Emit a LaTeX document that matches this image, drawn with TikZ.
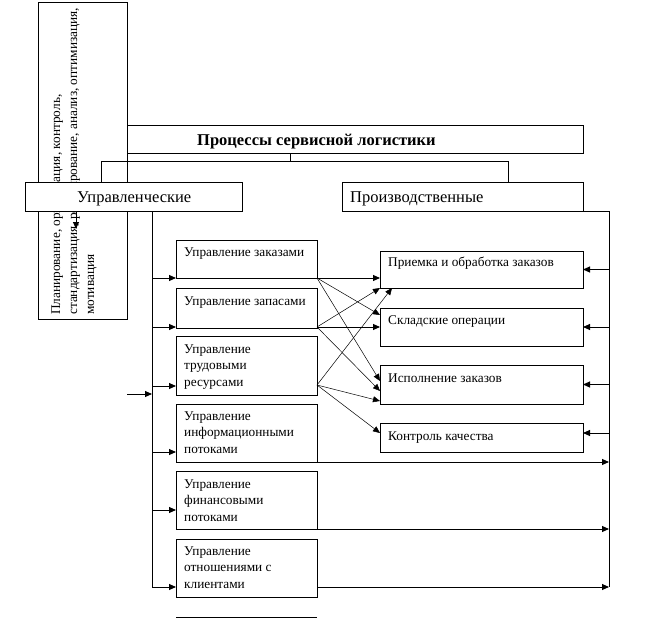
\documentclass[tikz,border=0pt]{standalone}
\usepackage{fontspec}
\setmainfont{Liberation Serif}
\usetikzlibrary{arrows.meta}
\begin{document}
\begin{tikzpicture}[x=1pt,y=-1pt,
  box/.style={draw, line width=0.9pt, fill=white, anchor=north west, inner sep=0pt, outer sep=0pt},
  txt/.style={anchor=base west, inner sep=0pt, align=left, font=\fontsize{13.3}{16.5}\selectfont},
  big/.style={anchor=base west, inner sep=0pt, font=\fontsize{16.5}{18}\selectfont},
  ttl/.style={anchor=base west, inner sep=0pt, font=\fontsize{16.5}{18}\selectfont\bfseries},
  conn/.style={line width=0.9pt},
  arr/.style={line width=0.9pt, -{Triangle[length=7pt,width=6pt]}},
  thinarr/.style={line width=0.5pt, -{Triangle[length=7pt,width=6pt]}},
]
\useasboundingbox (0,0) rectangle (648,618);
% left tall box with rotated text
\node[box, minimum width=89, minimum height=317] (plan) at (38.5,2) {};
\node[txt, rotate=90] (plan1) at (60,315) {Планирование, организация, контроль,};
\node[txt, rotate=90] (plan2) at (77,315) {стандартизация, регулирование, анализ, оптимизация,};
\node[txt, rotate=90] (plan3) at (94,315) {мотивация};
% top box
\node[box, minimum width=456, minimum height=28] (proc) at (127,125) {};
\node[ttl] (proct) at (197,145) {Процессы сервисной логистики};
% connector
\coordinate (j) at (290,161);
\coordinate (jl) at (101,161);
\coordinate (jr) at (508,161);
\draw[conn] (proc.south -| j) -- (j);
% category boxes
\node[box, minimum width=217, minimum height=29] (upr) at (25,182) {};
\node[big] (uprt) at (77,202) {Управленческие};
\node[box, minimum width=241, minimum height=29] (prod) at (342,182) {};
\node[big] (prodt) at (350,202) {Производственные};
\draw[conn] (upr.north -| jl) -- (jl) -- (jr) -- (prod.north -| jr);
% small arrow down
\coordinate (dn) at (76,229);
\draw[arr] (upr.south -| dn) -- (dn);
% left bus
\coordinate (lbend) at (152,587);
\draw[conn] (upr.south -| lbend) -- (lbend);
\coordinate (lin) at (127,394);
\draw[arr] (lin) -- (lin -| lbend);
% management boxes (multi-line text: base = last line)
\node[box, minimum width=141, minimum height=38] (m1) at (176,240) {};
\node[txt] (m1t) at (184,256) {Управление заказами};
\node[box, minimum width=141, minimum height=40] (m2) at (176,288) {};
\node[txt] (m2t) at (184,305) {Управление запасами};
\node[box, minimum width=141, minimum height=59] (m3) at (176,336) {};
\node[txt] (m3t) at (184,386) {Управление\\трудовыми\\ресурсами};
\node[box, minimum width=141, minimum height=58] (m4) at (176,404) {};
\node[txt] (m4t) at (184,453) {Управление\\информационными\\потоками};
\node[box, minimum width=141, minimum height=58] (m5) at (176,471) {};
\node[txt] (m5t) at (184,521) {Управление\\финансовыми\\потоками};
\node[box, minimum width=141, minimum height=58] (m6) at (176,539) {};
\node[txt] (m6t) at (184,588) {Управление\\отношениями с\\клиентами};
\draw[conn] (176,617.5) -- (317,617.5);
% bus arrows into management boxes
\coordinate (a1) at (176,278);
\coordinate (a2) at (176,327);
\coordinate (a3) at (176,386);
\coordinate (a4) at (176,452);
\coordinate (a5) at (176,510);
\coordinate (a6) at (176,587);
\foreach \a in {a1,a2,a3,a4,a5,a6} \draw[arr] (\a -| lbend) -- (\a);
% production boxes
\node[box, minimum width=203, minimum height=37] (r1) at (380,251) {};
\node[txt] (r1t) at (388,266) {Приемка и обработка заказов};
\node[box, minimum width=203, minimum height=38] (r2) at (380,308) {};
\node[txt] (r2t) at (388,324) {Складские операции};
\node[box, minimum width=203, minimum height=39] (r3) at (380,365) {};
\node[txt] (r3t) at (388,382) {Исполнение заказов};
\node[box, minimum width=203, minimum height=29] (r4) at (380,423) {};
\node[txt] (r4t) at (388,440) {Контроль качества};
% right bus
\coordinate (rbtop) at (609,211);
\coordinate (rbend) at (609,587);
\draw[conn] (prod.south east) -- (rbtop) -- (rbend);
\draw[arr] (r1.east -| rbend) -- (r1.east);
\draw[arr] (r2.east -| rbend) -- (r2.east);
\draw[arr] (r3.east -| rbend) -- (r3.east);
\coordinate (r4in) at (583,433);
\draw[arr] (r4in -| rbend) -- (r4in);
% lines to right bus
\draw[arr] (m4.south east) -- (m4.south east -| rbend);
\draw[arr] (m5.south east) -- (m5.south east -| rbend);
\draw[arr] (a6 -| m6.east) -- (a6 -| rbend);
% cross arrows
\coordinate (s1) at (317,278);
\coordinate (s2) at (317,327);
\coordinate (s3) at (317,385);
\coordinate (t12) at (380,315);
\coordinate (t13) at (380,381);
\coordinate (t23) at (380,391);
\coordinate (t33) at (380,401);
\coordinate (t31) at (392,288);
\draw[arr] (s1) -- (s1 -| r1.west);
\draw[thinarr] (s1) -- (t12);
\draw[thinarr] (s1) -- (t13);
\draw[thinarr] (s2) -- (r1.south west);
\draw[arr] (s2) -- (s2 -| r2.west);
\draw[thinarr] (s2) -- (t23);
\draw[thinarr] (s3) -- (t31);
\draw[thinarr] (s3) -- (t33);
\draw[thinarr] (s3) -- (r4in -| r4.west);
\end{tikzpicture}
\end{document}
